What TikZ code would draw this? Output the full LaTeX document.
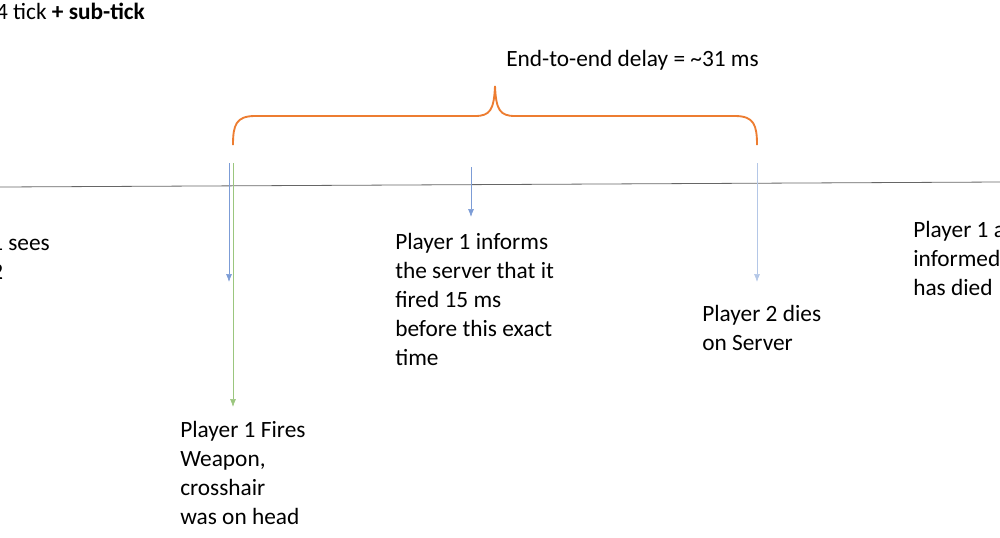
\documentclass[tikz,border=0pt]{standalone}
\usepackage{fontspec}
\setmainfont{Carlito}
\usetikzlibrary{positioning,arrows.meta}
\definecolor{tickblue}{RGB}{68,114,196}
\definecolor{tickgreen}{RGB}{112,173,71}
\definecolor{braceorange}{RGB}{237,125,49}
\begin{document}
\begin{tikzpicture}[x=0.75pt, y=-0.75pt,
    label/.style={font=\fontsize{17.5}{21.8}\selectfont, align=left, inner sep=0pt, anchor=north west},
    tick/.style={-{Latex[length=6pt,width=4.5pt]}, tickblue, line width=0.5pt},
    ]
    \useasboundingbox (0,0) rectangle (1000,537);
    \clip (0,0) rectangle (1000,537);
    % header
    \node [label] (head) at (-16,3) {64 tick \textbf{+ sub-tick}};
    \node [label, anchor=west] (delay) at (506,60) {End-to-end delay = \textasciitilde 31 ms};
    % timeline
    \coordinate (tl0) at (0,187);
    \coordinate (tl1) at (1000,182);
    \draw [gray!80!black, line width=0.6pt] (tl0) -- (tl1);
    % brace
    \coordinate (bl) at (233,145);
    \coordinate (br) at (757,145);
    \coordinate (btip) at (495,86);
    \draw [braceorange, line width=1.4pt]
        (bl) .. controls (233,125) and (236,116) .. (255,116)
        -- (475,116) .. controls (490,116) and (494,110) .. (btip)
        .. controls (496,110) and (500,116) .. (515,116)
        -- (735,116) .. controls (754,116) and (757,125) .. (br);
    % vertical markers
    \coordinate (a0) at (229,163); \coordinate (a1) at (229,282);
    \coordinate (g0) at (233,163); \coordinate (g1) at (233,407);
    \coordinate (m0) at (471,167); \coordinate (m1) at (471,217);
    \coordinate (s0) at (757,163); \coordinate (s1) at (757,282);
    \draw [tick, draw=tickblue!70] (a0) -- (a1);
    \draw [tick, tickgreen, draw=tickgreen!70] (g0) -- (g1);
    \draw [tick, draw=tickblue!70] (m0) -- (m1);
    \draw [tick, draw=tickblue!40] (s0) -- (s1);
    % labels
    \node [label] (sees) at (-9,235) {1 sees\\2};
    \node [label] (fires) at (180,421) {Player 1 Fires\\Weapon,\\crosshair\\was on head};
    \node [label] (informs) at (395,233) {Player 1 informs\\the server that it\\fired 15 ms\\before this exact\\time};
    \node [label] (dies) at (702,305) {Player 2 dies\\on Server};
    \node [label] (told) at (913,221) {Player 1 and\\informed\\has died};
\end{tikzpicture}
\end{document}
